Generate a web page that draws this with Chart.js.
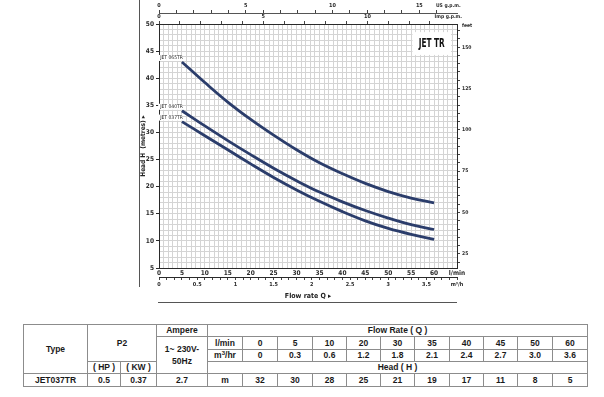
<!DOCTYPE html>
<html><head><meta charset="utf-8">
<script src="https://cdn.jsdelivr.net/npm/chart.js@4"></script>
<style>
html,body{margin:0;padding:0;background:#fff;width:604px;height:397px;overflow:hidden;}
#wrap{position:absolute;left:0;top:0;width:604px;height:310px;}
table{position:absolute;left:23px;top:324px;border-collapse:collapse;table-layout:fixed;width:564px;font-family:'Liberation Sans',Arial,sans-serif;font-weight:bold;font-size:8.5px;color:#1a1a1a;}
td{border:1px solid #8c8c8c;text-align:center;padding:0;line-height:11px;white-space:nowrap;overflow:hidden;}
sup{font-size:6px;line-height:0;vertical-align:3px;}
</style></head>
<body>
<div id="wrap"><canvas id="c" width="604" height="310"></canvas></div>
<table id="tbl"></table>
<script>
// ---- chart data ----
const flowLpm = [5, 10, 15, 20, 25, 30, 35, 40, 45, 50, 55, 60];
const head065 = [43.0, 39.2, 35.6, 32.4, 29.5, 26.8, 24.4, 22.4, 20.6, 19.1, 17.9, 17.0];
const head040 = [34.0, 31.2, 28.5, 25.9, 23.4, 21.1, 19.0, 17.2, 15.6, 14.2, 13.0, 12.1];
const head037 = [32.0, 29.4, 26.8, 24.2, 21.7, 19.4, 17.3, 15.4, 13.7, 12.3, 11.2, 10.3];
const seriesNames = ['JET 065TR', 'JET 040TR', 'JET 037TR'];

// ---- table data ----
const tblModel = 'JET037TR';
const tblHP = '0.5';
const tblKW = '0.37';
const tblAmp = '2.7';
const tblFlowLpm = ['0', '5', '10', '20', '30', '35', '40', '45', '50', '60'];
const tblFlowM3 = ['0', '0.3', '0.6', '1.2', '1.8', '2.1', '2.4', '2.7', '3.0', '3.6'];
const tblHead = ['32', '30', '28', '25', '21', '19', '17', '11', '8', '5'];

// ---- unit conversions / axis ranges ----
const L_PER_USG = 3.7854, L_PER_IMPG = 4.546, L_PER_M3H = 16.6667, FT_PER_M = 3.28084;
const xMin = 0, xMax = 65, yMin = 5, yMax = 50;

function range(a, b, s) { const r = []; for (let v = a; v <= b + 1e-9; v += s) r.push(+v.toFixed(3)); return r; }
const isMult = (v, m) => Math.abs(v / m - Math.round(v / m)) < 1e-6;

const FONT = "'DejaVu Sans Condensed','Liberation Sans Narrow',Arial,sans-serif";
const tf = (size) => ({ family: FONT, size: size, weight: 'bold' });
const AX = '#2a2a2a';
const LINE = '#2b3d6b';

const usLabelPos = 63.1 / L_PER_USG;
const impLabelPos = 63.1 / L_PER_IMPG;
const ftLabelPos = 162.8;

function mk(vals) { return vals.map(v => ({ value: v })); }

const deco = {
  id: 'deco',
  beforeDatasetsDraw(chart) {
    const { ctx, scales } = chart;
    const x = scales.x, y = scales.y;
    const x0 = x.getPixelForValue(55.3), x1 = x.getPixelForValue(63.7);
    const y0 = y.getPixelForValue(48.5), y1 = y.getPixelForValue(44.3);
    ctx.save();
    ctx.fillStyle = '#fff';
    ctx.fillRect(x0, y0, x1 - x0, y1 - y0);
    ctx.fillStyle = '#111';
    ctx.font = "bold 12px " + FONT;
    ctx.textAlign = 'center';
    ctx.textBaseline = 'middle';
    ctx.translate((x0 + x1) / 2, (y0 + y1) / 2);
    ctx.scale(0.68, 1);
    ctx.fillText('JET TR', 0, 0);
    ctx.restore();
  },
  afterDatasetsDraw(chart) {
    const { ctx } = chart;
    ctx.save();
    ctx.font = "5px " + FONT;
    ctx.textAlign = 'right';
    ctx.textBaseline = 'middle';
    chart.data.datasets.forEach((ds, i) => {
      const p = chart.getDatasetMeta(i).data[0];
      const t = ds.label;
      const w = ctx.measureText(t).width;
      ctx.fillStyle = '#fff';
      ctx.fillRect(p.x - w - 1, p.y - 7, w + 2, 6);
      ctx.fillStyle = '#222';
      ctx.fillText(t, p.x + 1, p.y - 4);
    });
    ctx.restore();
  },
  afterDraw(chart) {
    const { ctx, chartArea } = chart;
    ctx.save();
    ctx.strokeStyle = '#555';
    ctx.lineWidth = 1;
    ctx.beginPath();
    ctx.moveTo(139.5, 0); ctx.lineTo(139.5, 287);
    ctx.moveTo(chartArea.left - 1, 302.5); ctx.lineTo(chartArea.right, 302.5);
    ctx.stroke();
    ctx.restore();
  }
};

const series = [head065, head040, head037];
new Chart(document.getElementById('c'), {
  type: 'line',
  data: {
    datasets: series.map((h, i) => ({
      label: seriesNames[i],
      data: flowLpm.map((q, k) => ({ x: q, y: h[k] })),
      borderColor: LINE,
      borderWidth: 2.8,
      pointRadius: 0,
      fill: false,
      tension: 0.4,
      xAxisID: 'x', yAxisID: 'y'
    }))
  },
  options: {
    responsive: false,
    animation: false,
    events: [],
    layout: { padding: { left: 134, right: 125, top: 0, bottom: 9 } },
    plugins: { legend: { display: false }, tooltip: { enabled: false }, title: { display: false } },
    scales: {
      x: {
        type: 'linear', position: 'bottom', weight: 0, min: xMin, max: xMax,
        afterBuildTicks: s => { s.ticks = mk(range(0, 65, 1)); },
        afterFit: s => { s.height = 9; },
        ticks: { autoSkip: false, maxRotation: 0, padding: 1, font: tf(6.5), color: AX,
          callback: v => v === 65 ? 'l/min' : (isMult(v, 5) ? String(v) : '') },
        grid: { color: '#d4d4d4', lineWidth: 1, drawTicks: false },
        border: { color: AX, width: 1 }
      },
      xm3: {
        type: 'linear', position: 'bottom', weight: 1, min: xMin / L_PER_M3H, max: xMax / L_PER_M3H,
        afterBuildTicks: s => { s.ticks = mk(range(0, 3.9, 0.1)); },
        afterFit: s => { s.height = 24; },
        ticks: { autoSkip: false, maxRotation: 0, padding: 1, font: tf(5.5), color: AX,
          callback: v => Math.abs(v - 3.9) < 1e-6 ? 'm³/h' : (isMult(v, 0.5) ? String(+v.toFixed(1)) : '') },
        grid: { drawOnChartArea: false, drawTicks: true, tickLength: 3, color: '#444' },
        border: { color: AX, width: 1 },
        title: { display: true, text: 'Flow rate Q ▸', font: tf(7), color: '#222', padding: { top: 0, bottom: 1 } }
      },
      imp: {
        type: 'linear', position: 'top', weight: 0, min: xMin / L_PER_IMPG, max: xMax / L_PER_IMPG,
        afterBuildTicks: s => { s.ticks = mk(range(0, 13, 1).concat([impLabelPos])); },
        afterFit: s => { s.height = 11; },
        ticks: { autoSkip: false, maxRotation: 0, padding: 1, color: AX,
          font: c => tf(c.tick && c.tick.value === impLabelPos ? 5 : 5.5),
          callback: v => v === impLabelPos ? 'Imp g.p.m.' : (isMult(v, 5) ? String(v) : '') },
        grid: { drawOnChartArea: false, drawTicks: true, tickLength: 3,
          color: c => (c.tick && c.tick.value === impLabelPos) ? 'rgba(0,0,0,0)' : '#444' },
        border: { color: AX, width: 1 }
      },
      usg: {
        type: 'linear', position: 'top', weight: 1, min: xMin / L_PER_USG, max: xMax / L_PER_USG,
        afterBuildTicks: s => { s.ticks = mk(range(0, 16, 1).concat([usLabelPos])); },
        afterFit: s => { s.height = 13; },
        ticks: { autoSkip: false, maxRotation: 0, padding: 1, color: AX,
          font: c => tf(c.tick && c.tick.value === usLabelPos ? 5 : 5.5),
          callback: v => v === usLabelPos ? 'US g.p.m.' : (isMult(v, 5) ? String(v) : '') },
        grid: { drawOnChartArea: false, drawTicks: true, tickLength: 3,
          color: c => (c.tick && c.tick.value === usLabelPos) ? 'rgba(0,0,0,0)' : '#444' },
        border: { color: '#555', width: 1 }
      },
      y: {
        type: 'linear', position: 'left', weight: 0, min: yMin, max: yMax,
        afterBuildTicks: s => { s.ticks = mk(range(5, 50, 1)); },
        afterFit: s => { s.width = 25; },
        ticks: { autoSkip: false, padding: 2, font: tf(6.5), color: AX,
          callback: v => isMult(v, 5) ? String(v) : '' },
        grid: { color: '#d4d4d4', lineWidth: 1, drawTicks: true, tickLength: 3,
          tickColor: c => (c.tick && isMult(c.tick.value, 5)) ? AX : 'rgba(0,0,0,0)' },
        border: { color: AX, width: 1 },
        title: { display: true, text: 'Head H  (metres) ▸', font: tf(6.5), color: '#222', padding: { top: 5, bottom: 0 } }
      },
      ft: {
        type: 'linear', position: 'right', weight: 0, min: yMin * FT_PER_M, max: yMax * FT_PER_M,
        afterBuildTicks: s => { s.ticks = mk(range(20, 160, 5).concat([ftLabelPos])); },
        afterFit: s => { s.width = 22; },
        ticks: { autoSkip: false, padding: 2, color: AX,
          font: c => tf(5),
          callback: v => v === ftLabelPos ? 'feet' : (isMult(v, 25) ? String(v) : '') },
        grid: { drawOnChartArea: false, drawTicks: true, tickLength: 3,
          color: c => (c.tick && c.tick.value === ftLabelPos) ? 'rgba(0,0,0,0)' : '#444' },
        border: { color: AX, width: 1 }
      }
    }
  },
  plugins: [deco]
});

// ---- table ----
(function () {
  const t = document.getElementById('tbl');
  const colW = [64, 33, 36, 51, 35, 35, 35, 34, 34, 34, 35, 34, 34, 35, 35];
  let h = '<colgroup>' + colW.map(w => '<col style="width:' + w + 'px">').join('') + '</colgroup>';
  const cells = a => a.map(v => '<td>' + v + '</td>').join('');
  h += '<tr style="height:12px"><td rowspan="4">Type</td><td colspan="2" rowspan="3">P2</td><td>Ampere</td><td colspan="11">Flow Rate ( Q )</td></tr>';
  h += '<tr style="height:13px"><td rowspan="3" style="line-height:12px">1~ 230V-<br>50Hz</td><td>l/min</td>' + cells(tblFlowLpm) + '</tr>';
  h += '<tr style="height:12px"><td>m<sup>3</sup>/hr</td>' + cells(tblFlowM3) + '</tr>';
  h += '<tr style="height:12px"><td>( HP )</td><td>( KW )</td><td colspan="11">Head ( H )</td></tr>';
  h += '<tr style="height:13px"><td>' + tblModel + '</td><td>' + tblHP + '</td><td>' + tblKW + '</td><td>' + tblAmp + '</td><td>m</td>' + cells(tblHead) + '</tr>';
  t.innerHTML = h;
})();
</script>
</body></html>
